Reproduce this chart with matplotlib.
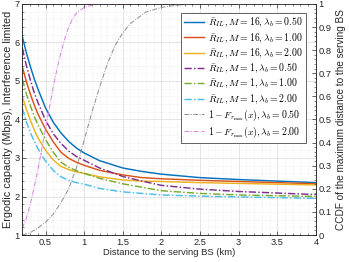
import matplotlib
matplotlib.use("Agg")
import matplotlib.pyplot as plt
from matplotlib.ticker import MultipleLocator

plt.rcParams['font.family'] = ['Liberation Sans', 'DejaVu Sans']
plt.rcParams['mathtext.fontset'] = 'cm'

# ---- data ----
x_cap = [0.2, 0.25, 0.3, 0.35, 0.4, 0.5, 0.6, 0.7, 0.8, 0.9, 1.0, 1.2, 1.5, 1.75, 2.0, 2.5, 3.0, 3.5, 4.0]
r16_050 = [6.15, 5.75, 5.40, 5.08, 4.80, 4.30, 3.93, 3.65, 3.43, 3.26, 3.13, 2.93, 2.74, 2.65, 2.58, 2.49, 2.44, 2.40, 2.36]
r16_100 = [5.37, 5.00, 4.68, 4.40, 4.15, 3.75, 3.42, 3.15, 2.99, 2.89, 2.81, 2.68, 2.56, 2.49, 2.46, 2.42, 2.39, 2.36, 2.33]
r16_200 = [4.59, 4.28, 4.00, 3.75, 3.53, 3.20, 2.95, 2.78, 2.70, 2.64, 2.60, 2.51, 2.43, 2.40, 2.39, 2.36, 2.34, 2.32, 2.30]
r1_050 = [5.85, 5.42, 5.05, 4.72, 4.45, 3.98, 3.63, 3.38, 3.18, 3.04, 2.94, 2.74, 2.52, 2.40, 2.29, 2.19, 2.13, 2.09, 2.05]
r1_100 = [5.05, 4.68, 4.38, 4.10, 3.87, 3.48, 3.15, 2.89, 2.76, 2.67, 2.60, 2.47, 2.33, 2.24, 2.15, 2.08, 2.04, 2.02, 2.00]
r1_200 = [4.29, 3.95, 3.68, 3.45, 3.25, 2.92, 2.68, 2.51, 2.42, 2.36, 2.32, 2.21, 2.12, 2.08, 2.04, 2.01, 1.99, 1.97, 1.95]

x_ccdf_050 = [0.2, 0.3, 0.4, 0.5, 0.6, 0.7, 0.8, 0.9, 1.0, 1.1, 1.2, 1.3, 1.4, 1.5, 1.6, 1.8, 2.0, 2.2, 2.5, 3.0, 4.0]
ccdf_050 = [0.0, 0.01, 0.03, 0.055, 0.09, 0.14, 0.20, 0.29, 0.41, 0.53, 0.64, 0.74, 0.82, 0.875, 0.915, 0.965, 0.985, 0.995, 1.0, 1.0, 1.0]
x_ccdf_200 = [0.2, 0.25, 0.3, 0.35, 0.4, 0.45, 0.5, 0.55, 0.6, 0.65, 0.7, 0.75, 0.8, 0.85, 0.9, 1.0, 1.1, 1.2, 1.5, 2.0, 3.0, 4.0]
ccdf_200 = [0.03, 0.07, 0.13, 0.20, 0.28, 0.37, 0.46, 0.55, 0.64, 0.72, 0.79, 0.85, 0.90, 0.935, 0.96, 0.985, 0.995, 0.999, 1.0, 1.0, 1.0, 1.0]

labels_cap = [r'$\bar{R}_{IL}, M = 16, \lambda_b = 0.50$',
              r'$\bar{R}_{IL}, M = 16, \lambda_b = 1.00$',
              r'$\bar{R}_{IL}, M = 16, \lambda_b = 2.00$',
              r'$\bar{R}_{IL}, M = 1, \lambda_b = 0.50$',
              r'$\bar{R}_{IL}, M = 1, \lambda_b = 1.00$',
              r'$\bar{R}_{IL}, M = 1, \lambda_b = 2.00$']
labels_ccdf = [r'$1 - F_{r_{\max}}(x), \lambda_b = 0.50$',
               r'$1 - F_{r_{\max}}(x), \lambda_b = 2.00$']

x_ticks = [0.5, 1, 1.5, 2, 2.5, 3, 3.5, 4]
y_ticks = [1, 2, 3, 4, 5, 6, 7]
y2_ticks = [0, 0.1, 0.2, 0.3, 0.4, 0.5, 0.6, 0.7, 0.8, 0.9, 1]

# ---- plotting ----
fig = plt.figure(figsize=(3.49, 2.62), dpi=100)
ax = fig.add_axes([0.064, 0.103, 0.841, 0.882])
ax2 = ax.twinx()

dd = (0, (5, 1.5, 1, 1.5))
cols = ['#0072BD', '#D95319', '#EDB120', '#7E2F8E', '#77AC30', '#4DBEEE']
series = [r16_050, r16_100, r16_200, r1_050, r1_100, r1_200]
styles = ['-', '-', '-', dd, dd, dd]
handles = []
for s, c, ls, lab in zip(series, cols, styles, labels_cap):
    h, = ax.plot(x_cap, s, color=c, ls=ls, lw=1.05, label=lab)
    handles.append(h)

h1, = ax2.plot(x_ccdf_050, ccdf_050, color='#8c8c8c', ls=dd, lw=0.7, label=labels_ccdf[0])
h2, = ax2.plot(x_ccdf_200, ccdf_200, color='#d77fe0', ls=dd, lw=0.7, label=labels_ccdf[1])
handles += [h1, h2]

ax.set_xlim(0.2, 4)
ax.set_ylim(1, 7)
ax2.set_ylim(0, 1)
ax.set_xticks(x_ticks)
ax.set_xticklabels([('%g' % t) for t in x_ticks])
ax.set_yticks(y_ticks)
ax2.set_yticks(y2_ticks)
ax2.set_yticklabels([('%g' % t) for t in y2_ticks])
ax.xaxis.set_minor_locator(MultipleLocator(0.1))
ax.yaxis.set_minor_locator(MultipleLocator(0.2))
ax2.yaxis.set_minor_locator(MultipleLocator(0.02))

ax.grid(True, which='major', color='#e0e0e0', lw=0.6, ls='-')
ax.grid(True, which='minor', color='#e2e2e2', lw=0.5, ls=(0, (1, 2)))
ax.set_axisbelow(True)

fs = 6.7
for a in (ax, ax2):
    a.tick_params(which='both', direction='in', labelsize=fs, colors='#262626', pad=2)
    a.tick_params(which='major', length=3, width=0.5)
    a.tick_params(which='minor', length=1.5, width=0.4)
    for sp in a.spines.values():
        sp.set_color('#262626')
        sp.set_linewidth(0.5)
ax.tick_params(axis='x', which='both', top=True)

xl = ax.set_xlabel('Distance to the serving BS (km)', fontsize=7, color='#262626', labelpad=1)
yl = ax.set_ylabel('Ergodic capacity (Mbps), Interference limited', fontsize=7, color='#262626', labelpad=1)
yl2 = ax2.set_ylabel('CCDF of the maximum distance to the serving BS', fontsize=7, color='#262626', labelpad=3)

# fit label sizes to the reference's text lengths (pixels)
fig.canvas.draw()
r = fig.canvas.get_renderer()
for t, target, vertical in ((xl, 133, False), (yl, 216, True), (yl2, 222, True)):
    bb = t.get_window_extent(r)
    cur = bb.height if vertical else bb.width
    t.set_fontsize(t.get_fontsize() * target / cur)

leg = ax2.legend(handles, labels_cap + labels_ccdf, loc='upper right',
                 bbox_to_anchor=(0.966, 0.961), borderaxespad=0, fontsize=7.05,
                 fancybox=False, framealpha=1, edgecolor='#262626',
                 handlelength=2.1, handletextpad=0.4, labelspacing=0.18,
                 borderpad=0.3)
leg.get_frame().set_linewidth(0.5)

fig.savefig('out.png', dpi=100)
